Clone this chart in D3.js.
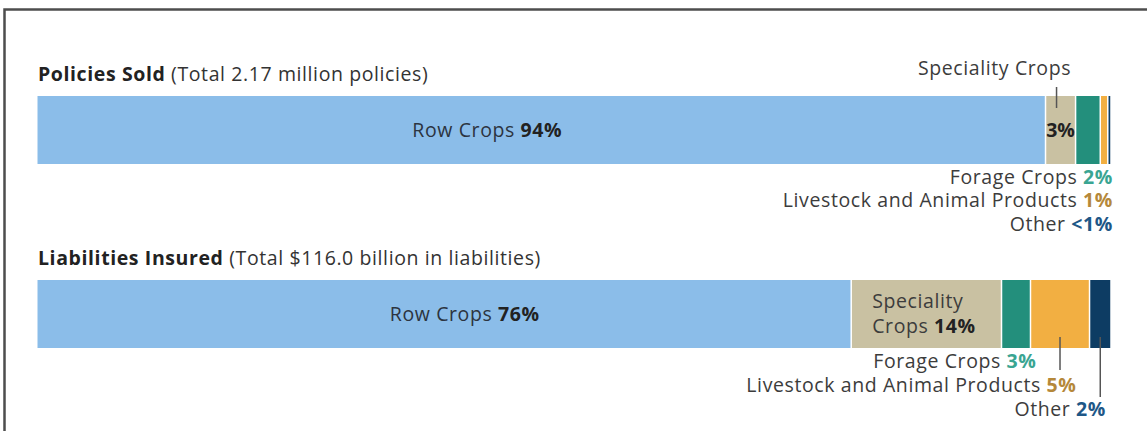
<!DOCTYPE html>
<html>
<head>
<meta charset="utf-8">
<script src="https://cdn.jsdelivr.net/npm/d3@7"></script>
<style>
  html, body { margin: 0; padding: 0; background: #fff; }
  svg { display: block; font-family: "Open Sans", Lato, sans-serif; }
</style>
</head>
<body>
<svg id="svg" width="1147" height="431"></svg>
<script>
// share of crop insurance by commodity group (percent)
const categories = ["Row Crops", "Speciality Crops", "Forage Crops", "Livestock and Animal Products", "Other"];
const policiesPct = [93.9, 2.8, 2.3, 0.7, 0.3];
const liabilitiesPct = [75.8, 14.0, 2.7, 5.5, 2.0];
const policiesLabels = ["94%", "3%", "2%", "1%", "<1%"];
const liabilitiesLabels = ["76%", "14%", "3%", "5%", "2%"];
const colors = ["#8bbde9", "#c9c1a2", "#238f7c", "#f2af42", "#0d3c63"];
const pctColors = ["#222", "#222", "#3aa592", "#b5883a", "#1e5787"];
const titles = [
    { bold: "Policies Sold", rest: " (Total 2.17 million policies)" },
    { bold: "Liabilities Insured", rest: " (Total $116.0 billion in liabilities)" }
];
const rowLabelAt = [41.9, 39.8];

const svg = d3.select('#svg');
const x = d3.scaleLinear().domain([0, 100]).range([37.5, 1111]);
const barH = 68;
const barTop = [96, 280];
const textCol = "#3c3c3c";
const fs = 19.5;
const ls = 0.6;

// frame (top and left only)
svg.append('path')
    .attr('d', 'M4.5,431 V9.5 H1147')
    .attr('fill', 'none')
    .attr('stroke', '#4d4d4d')
    .attr('stroke-width', 2.5);

function stack(vals) {
    let acc = 0;
    return vals.map((v, i) => { let s = acc; acc += v; return { i, x0: s, x1: acc, v }; });
}

function label(sel) {
    return sel.append('text')
        .attr('font-size', fs)
        .attr('letter-spacing', ls)
        .attr('fill', textCol);
}

function drawBar(k, vals) {
    let top = barTop[k];
    let g = svg.append('g');
    g.selectAll('rect')
        .data(stack(vals))
        .join('rect')
        .attr('x', d => x(d.x0) + (d.i > 0 ? 0.75 : 0))
        .attr('y', top)
        .attr('width', d => Math.max(0.8, x(d.x1) - x(d.x0) - (d.i > 0 ? 1.5 : 0.75)))
        .attr('height', barH)
        .attr('fill', d => colors[d.i]);

    let t = label(svg)
        .attr('x', 38)
        .attr('y', top - 15)
        .attr('fill', '#222');
    t.append('tspan').attr('font-weight', 'bold').text(titles[k].bold);
    t.append('tspan').attr('fill', '#333').text(titles[k].rest);

    // row crops label
    let rl = label(svg)
        .attr('x', x(rowLabelAt[k]))
        .attr('y', top + barH / 2 + 7)
        .attr('text-anchor', 'middle')
        .attr('fill', '#2c3440');
    rl.append('tspan').text(categories[0] + ' ');
    rl.append('tspan').attr('font-weight', 'bold').attr('fill', '#222')
        .text(k === 0 ? policiesLabels[0] : liabilitiesLabels[0]);
}

drawBar(0, policiesPct);
drawBar(1, liabilitiesPct);

function sideLabel(name, pct, color, xr, y) {
    let t = label(svg)
        .attr('x', xr)
        .attr('y', y)
        .attr('text-anchor', 'end');
    t.append('tspan').text(name + ' ');
    t.append('tspan').attr('font-weight', 'bold').attr('fill', color).text(pct);
}

function leader(xp, y1, y2) {
    svg.append('line')
        .attr('x1', xp).attr('x2', xp)
        .attr('y1', y1).attr('y2', y2)
        .attr('stroke', '#555')
        .attr('stroke-width', 1.5);
}

// --- policies sold annotations
let s0 = stack(policiesPct);
let mid = d => (x(d.x0) + x(d.x1)) / 2;
label(svg)
    .attr('x', mid(s0[1]) - 66)
    .attr('y', 75)
    .attr('text-anchor', 'middle')
    .text(categories[1]);
leader(mid(s0[1]) - 4, 87, 108);
label(svg)
    .attr('x', mid(s0[1]))
    .attr('y', barTop[0] + barH / 2 + 7)
    .attr('text-anchor', 'middle')
    .attr('letter-spacing', 0)
    .attr('font-weight', 'bold')
    .attr('fill', '#222')
    .text(policiesLabels[1]);
sideLabel(categories[2], policiesLabels[2], pctColors[2], x(100) + 2, 184);
sideLabel(categories[3], policiesLabels[3], pctColors[3], x(100) + 2, 207);
sideLabel(categories[4], policiesLabels[4], pctColors[4], x(100) + 2, 231);

// --- liabilities insured annotations
let s1 = stack(liabilitiesPct);
let sp = label(svg);
sp.append('tspan').attr('x', x(s1[1].x0) + 21).attr('y', 308).text('Speciality');
sp.append('tspan').attr('x', x(s1[1].x0) + 21).attr('y', 333).text('Crops ');
sp.append('tspan').attr('font-weight', 'bold').attr('fill', '#222').text(liabilitiesLabels[1]);

sideLabel(categories[2], liabilitiesLabels[2], pctColors[2], x(s1[2].x1) + 6, 368);
leader(mid(s1[3]), 337, 370);
sideLabel(categories[3], liabilitiesLabels[3], pctColors[3], x(s1[3].x1) - 13, 392);
leader(mid(s1[4]), 337, 397);
sideLabel(categories[4], liabilitiesLabels[4], pctColors[4], x(s1[4].x1) - 5, 416);
</script>
</body>
</html>
